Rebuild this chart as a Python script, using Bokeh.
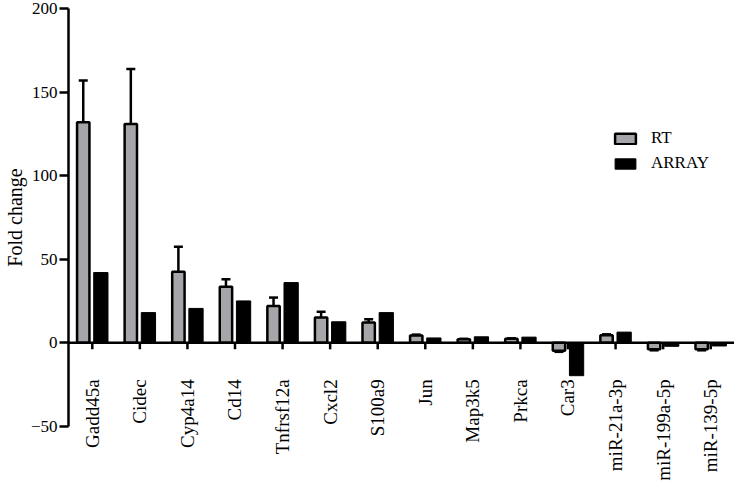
import math
from bokeh.plotting import figure
from bokeh.models import (ColumnDataSource, Range1d, FixedTicker, Span, LabelSet,
                          Whisker, TeeHead, Legend, LegendItem)
from bokeh.transform import dodge
from bokeh.embed import file_html
from bokeh.resources import INLINE

cats = ["Gadd45a", "Cidec", "Cyp4a14", "Cd14", "Tnfrsf12a", "Cxcl2", "S100a9",
        "Jun", "Map3k5", "Prkca", "Car3", "miR-21a-3p", "miR-199a-5p", "miR-139-5p"]
rt = [132, 131, 42.5, 33.5, 22, 15, 12, 4.3, 2, 2.3, -4.9, 4.5, -4, -4]
rt_err = [25, 33, 15, 4.5, 5, 3.5, 2, 0.5, 0.3, 0.3, 0.6, 0.5, 0.6, 0.6]
array = [42, 18, 20.5, 25, 36, 12.5, 18, 2.8, 3.5, 3.3, -19.8, 6.3, -2.2, -2]
y_ticks = [-50, 0, 50, 100, 150, 200]

FONT = "Liberation Serif"

rt_end = [v + (e if v >= 0 else -e) for v, e in zip(rt, rt_err)]
src = ColumnDataSource(dict(cats=cats, rt=rt, array=array, rt_end=rt_end,
                            zero=[0] * len(cats), tick=[-4] * len(cats),
                            lab=[-22] * len(cats)))

p = figure(x_range=cats, y_range=Range1d(-85, 205), width=734, height=484,
           output_backend="svg", toolbar_location=None, x_axis_location=None,
           min_border_left=58, min_border_right=0, min_border_top=0, min_border_bottom=0)
p.grid.visible = False
p.outline_line_color = None
p.background_fill_color = "white"

yax = p.yaxis[0]
yax.ticker = FixedTicker(ticks=y_ticks)
yax.bounds = (-50, 200)
yax.axis_line_width = 2.5
yax.major_tick_line_width = 2.5
yax.major_tick_in = 0
yax.major_tick_out = 9
yax.minor_tick_line_color = None
yax.major_label_standoff = 2
yax.major_label_text_font = FONT
yax.major_label_text_font_size = "17px"
yax.major_label_text_color = "black"
# leading no-break spaces move the rotated label up to the centre of the drawn axis
yax.axis_label = "\u00a0" * 10 + "Fold change"
yax.axis_label_text_font = FONT
yax.axis_label_text_font_size = "20px"
yax.axis_label_text_font_style = "normal"
yax.axis_label_text_color = "black"
yax.axis_label_standoff = 2

r_rt = p.vbar(x=dodge("cats", -0.19, range=p.x_range), top="rt", bottom="zero", width=0.26,
              source=src, fill_color="#a6a6aa", line_color="black", line_width=2.5)
r_ar = p.vbar(x=dodge("cats", 0.18, range=p.x_range), top="array", bottom="zero", width=0.3,
              source=src, fill_color="black", line_color="black", line_width=1)

wh = Whisker(base=dodge("cats", -0.19, range=p.x_range), upper="rt_end", lower="rt",
             source=src, dimension="height", line_width=2.5, line_color="black",
             lower_head=None, upper_head=TeeHead(size=9, line_width=2.5, line_color="black"))
p.add_layout(wh)

p.add_layout(Span(location=0, dimension="width", line_color="black", line_width=2.5))
p.segment(x0="cats", x1="cats", y0="zero", y1="tick", source=src,
          line_color="black", line_width=2.5)

labels = LabelSet(x="cats", y="lab", text="cats", source=src, angle=math.pi / 2,
                  text_align="right", text_baseline="middle", text_font=FONT,
                  text_font_size="19px", text_color="black")
p.add_layout(labels)

legend = Legend(items=[LegendItem(label="RT", renderers=[r_rt]),
                       LegendItem(label="ARRAY", renderers=[r_ar])],
                location=(544, 311), padding=0, margin=0, spacing=5,
                glyph_width=26, glyph_height=13, label_height=20, label_standoff=13,
                border_line_color=None, background_fill_alpha=0,
                label_text_font=FONT, label_text_font_size="17px", label_text_color="black")
p.add_layout(legend)

open("out.html", "w").write(file_html(p, INLINE))
